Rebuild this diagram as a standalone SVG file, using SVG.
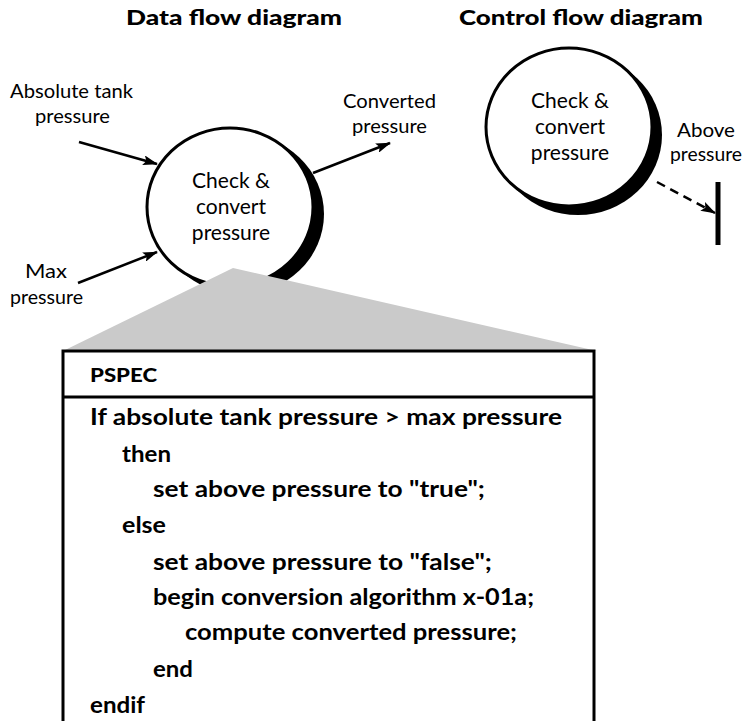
<svg xmlns="http://www.w3.org/2000/svg" width="746" height="721" viewBox="0 0 746 721">
<style>
.h{font-family:"Lato","Liberation Sans",sans-serif;font-weight:900;font-size:20px;fill:#000}
.lbl{font-family:"Lato","Liberation Sans",sans-serif;font-weight:400;font-size:20px;fill:#000}
.in{font-family:"Lato","Liberation Sans",sans-serif;font-weight:400;font-size:21px;fill:#000;text-anchor:middle}
.code{font-family:"Lato","Liberation Sans",sans-serif;font-weight:700;font-size:22px;fill:#000}
.ps{font-family:"Lato","Liberation Sans",sans-serif;font-weight:900;font-size:18px;fill:#000}
.proc{fill:#fff;stroke:#000;stroke-width:3}
.flow{fill:none;stroke:#000;stroke-width:2.5}
</style>
<defs>
<marker id="ah" markerUnits="userSpaceOnUse" markerWidth="15" markerHeight="10" refX="14" refY="5" orient="auto">
<path d="M0,0 L15,5 L0,10 L3,5 z" fill="#000"/>
</marker>
</defs>
<rect width="746" height="721" fill="#fff"/>
<text class="h" x="126" y="25" textLength="216" lengthAdjust="spacingAndGlyphs">Data flow diagram</text>
<text class="h" x="459" y="25" textLength="244" lengthAdjust="spacingAndGlyphs">Control flow diagram</text>

<g id="dfd-process">
<ellipse cx="240" cy="214" rx="84" ry="80" fill="#000"/>
<ellipse class="proc" cx="230" cy="207" rx="83" ry="79"/>
<text class="in" x="231" y="188">Check &amp;</text>
<text class="in" x="231" y="214">convert</text>
<text class="in" x="231" y="240">pressure</text>
</g>

<g id="cfd-process">
<ellipse cx="578" cy="135" rx="84" ry="80" fill="#000"/>
<ellipse class="proc" cx="569" cy="127" rx="83" ry="79"/>
<text class="in" x="570" y="108">Check &amp;</text>
<text class="in" x="570" y="134">convert</text>
<text class="in" x="570" y="160">pressure</text>
</g>

<g id="control-bar">
<line x1="718" y1="182" x2="718" y2="245" stroke="#000" stroke-width="5"/>
</g>

<g id="labels">
<text class="lbl" x="10" y="98" textLength="123" lengthAdjust="spacingAndGlyphs">Absolute tank</text>
<text class="lbl" x="35" y="123" textLength="75" lengthAdjust="spacingAndGlyphs">pressure</text>
<text class="lbl" x="25" y="278" textLength="42" lengthAdjust="spacingAndGlyphs">Max</text>
<text class="lbl" x="10" y="304" textLength="73" lengthAdjust="spacingAndGlyphs">pressure</text>
<text class="lbl" x="343" y="108" textLength="93" lengthAdjust="spacingAndGlyphs">Converted</text>
<text class="lbl" x="352" y="133" textLength="75" lengthAdjust="spacingAndGlyphs">pressure</text>
<text class="lbl" x="677" y="137" textLength="58" lengthAdjust="spacingAndGlyphs">Above</text>
<text class="lbl" x="670" y="161" textLength="72" lengthAdjust="spacingAndGlyphs">pressure</text>
</g>

<g id="connectors">
<line class="flow" x1="79" y1="142" x2="157" y2="164" marker-end="url(#ah)"/>
<line class="flow" x1="78" y1="283" x2="157" y2="252" marker-end="url(#ah)"/>
<line class="flow" x1="313" y1="173" x2="390" y2="143" marker-end="url(#ah)"/>
<line class="flow" x1="657" y1="182" x2="715" y2="213" stroke-dasharray="9,6" marker-end="url(#ah)"/>
</g>

<g id="zoom-wedge">
<polygon points="233,268 63,351 597,351" fill="#cacaca"/>
</g>

<g id="pspec">
<rect x="63" y="351" width="531" height="400" fill="#fff" stroke="#000" stroke-width="3"/>
<line x1="63" y1="397" x2="594" y2="397" stroke="#000" stroke-width="3"/>
<text class="ps" x="90" y="382" textLength="67" lengthAdjust="spacingAndGlyphs">PSPEC</text>
<text class="code" x="90" y="425" textLength="472" lengthAdjust="spacingAndGlyphs">If absolute tank pressure &gt; max pressure</text>
<text class="code" x="122" y="462" textLength="49" lengthAdjust="spacingAndGlyphs">then</text>
<text class="code" x="153" y="497" textLength="332" lengthAdjust="spacingAndGlyphs">set above pressure to "true";</text>
<text class="code" x="122" y="533" textLength="44" lengthAdjust="spacingAndGlyphs">else</text>
<text class="code" x="153" y="570" textLength="339" lengthAdjust="spacingAndGlyphs">set above pressure to "false";</text>
<text class="code" x="153" y="605" textLength="381" lengthAdjust="spacingAndGlyphs">begin conversion algorithm x-01a;</text>
<text class="code" x="185" y="640" textLength="332" lengthAdjust="spacingAndGlyphs">compute converted pressure;</text>
<text class="code" x="153" y="677" textLength="40" lengthAdjust="spacingAndGlyphs">end</text>
<text class="code" x="90" y="713" textLength="55" lengthAdjust="spacingAndGlyphs">endif</text>
</g>
</svg>
